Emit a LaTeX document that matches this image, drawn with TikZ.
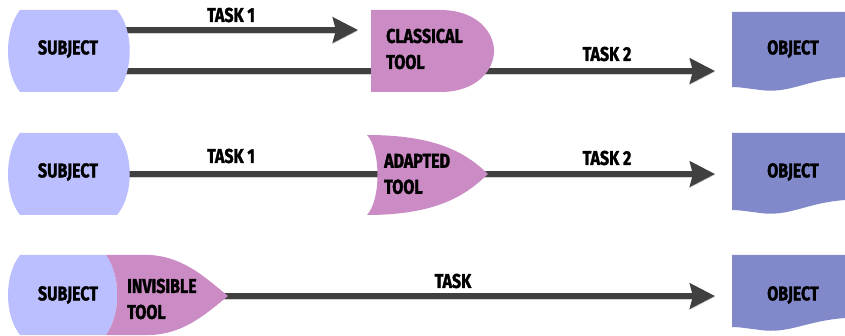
\documentclass[tikz,border=0pt]{standalone}
\usepackage{fontspec}
\newfontfamily\lbl{Fira Sans}[FakeStretch=0.8, BoldFeatures={FakeBold=1.6}]
\usetikzlibrary{arrows.meta}
\definecolor{subjc}{HTML}{BBBFFF}
\definecolor{toolc}{HTML}{CB8BC5}
\definecolor{objc}{HTML}{8289CB}
\definecolor{arrc}{HTML}{404040}
\tikzset{
  txt/.style={font=\lbl\bfseries\fontsize{20}{26}\selectfont, inner sep=0pt, text=black},
  tooltxt/.style={txt, anchor=west, align=left},
  conn/.style={draw=arrc, line width=6pt, preaction={draw=gray!35, line width=6pt, transform canvas={yshift=-1pt}}},
  arr/.style={conn, -{Stealth[length=25pt,width=25pt,inset=3pt]}},
  subjshape/.style={fill=subjc, draw=none},
  toolshape/.style={fill=toolc, draw=none},
  objshape/.style={fill=objc, draw=none}
}
\begin{document}
\begin{tikzpicture}[x=1pt,y=-1pt]
\useasboundingbox (0,0) rectangle (845,336);
% connection points
\coordinate (s1a) at (122,30);
\coordinate (s1b) at (122,71);
\coordinate (t1in) at (358,30);
\coordinate (t1l) at (380,71);
\coordinate (t1r) at (485,71);
\coordinate (o1) at (715,71);
\coordinate (s2) at (122,174);
\coordinate (t2l) at (380,174);
\coordinate (t2r) at (480,174);
\coordinate (o2) at (715,174);
\coordinate (t3r) at (220,296);
\coordinate (o3) at (715,296);
% connectors
\draw[arr] (s1a) -- (t1in);
\draw[conn] (s1b) -- (t1l);
\draw[arr] (t1r) -- (o1);
\draw[conn] (s2) -- (t2l);
\draw[arr] (t2r) -- (o2);
\draw[arr] (t3r) -- (o3);
% row 1 shapes
\path[subjshape] (20,10) -- (117,10) .. controls (134,30) and (134,72) .. (117,92) -- (20,92) .. controls (4,72) and (4,30) .. (20,10) -- cycle;
\path[toolshape] (371,10) -- (440,10) .. controls (478,10) and (494,33) .. (494,51) .. controls (494,69) and (478,92) .. (440,92) -- (371,92) -- cycle;
\path[objshape] (732,12) -- (845,12) -- (845,77) .. controls (805,80) and (790,94) .. (760,90) .. controls (745,88) and (738,87) .. (732,87) -- cycle;
% row 2 shapes
\path[subjshape] (20,133) -- (117,133) .. controls (134,153) and (134,195) .. (117,215) -- (20,215) .. controls (4,195) and (4,153) .. (20,133) -- cycle;
\path[toolshape] (367,135) .. controls (440,135) and (468,155) .. (488,174) .. controls (468,193) and (440,215) .. (367,215) .. controls (381,200) and (381,150) .. (367,135) -- cycle;
\path[objshape] (732,133) -- (845,133) -- (845,200) .. controls (805,203) and (790,217) .. (760,213) .. controls (745,211) and (738,210) .. (732,210) -- cycle;
% row 3 shapes
\path[subjshape] (20,255) -- (106,255) .. controls (121,275) and (121,315) .. (106,335) -- (20,335) .. controls (4,315) and (4,275) .. (20,255) -- cycle;
\path[toolshape] (106,255) -- (150,255) .. controls (185,257) and (208,280) .. (228,296) .. controls (208,312) and (185,334) .. (150,335) -- (106,335) .. controls (121,315) and (121,275) .. (106,255) -- cycle;
\path[objshape] (732,255) -- (845,255) -- (845,318) .. controls (805,321) and (790,334) .. (760,330) .. controls (745,328) and (738,327) .. (732,327) -- cycle;
% texts
\node[txt] (subj1) at (68,49) {SUBJECT};
\node[txt] (subj2) at (68,172) {SUBJECT};
\node[txt] (subj3) at (68,295) {SUBJECT};
\node[tooltxt] (tool1) at (386,49) {CLASSICAL\\TOOL};
\node[tooltxt] (tool2) at (384,174) {ADAPTED\\TOOL};
\node[tooltxt] (tool3) at (127,299) {INVISIBLE\\TOOL};
\node[txt] (obj1) at (793,49) {OBJECT};
\node[txt] (obj2) at (793,172) {OBJECT};
\node[txt] (obj3) at (793,295) {OBJECT};
\node[txt] (task11) at (231,15) {TASK 1};
\node[txt] (task12) at (607,54) {TASK 2};
\node[txt] (task21) at (231,156) {TASK 1};
\node[txt] (task22) at (607,158) {TASK 2};
\node[txt] (task3) at (453,281) {TASK};
\end{tikzpicture}
\end{document}
